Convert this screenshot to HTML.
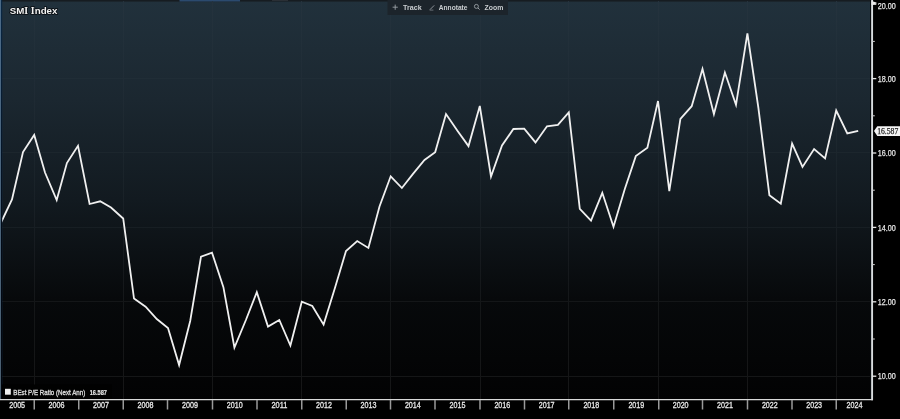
<!DOCTYPE html>
<html><head><meta charset="utf-8"><style>
html,body{margin:0;padding:0;background:#000;}
body{width:900px;height:419px;overflow:hidden;position:relative;font-family:"Liberation Sans",sans-serif;}
svg{position:absolute;left:0;top:0;will-change:transform;}
.g{stroke:#14191d;stroke-width:1;}
.tk{stroke:#e6e6e6;stroke-width:1.3;}
.tk2{stroke:#d0d0d0;stroke-width:1;}
.sep{stroke:#9a9a9a;stroke-width:1.5;}
.yl{font-family:"Liberation Sans",sans-serif;font-size:8.3px;fill:#e4e4e4;stroke:#e4e4e4;stroke-width:0.25px;}
.xl{font-family:"Liberation Sans",sans-serif;font-size:8.6px;fill:#e8e8e8;stroke:#e8e8e8;stroke-width:0.3px;}
.t{font-family:"Liberation Sans",sans-serif;}
</style></head><body>
<svg width="900" height="419" viewBox="0 0 900 419">
<defs>
<linearGradient id="bg" gradientUnits="userSpaceOnUse" x1="0" y1="0" x2="0" y2="399">
<stop offset="0" stop-color="#21313c"/>
<stop offset="0.25" stop-color="#1b2730"/>
<stop offset="0.5" stop-color="#121a20"/>
<stop offset="0.75" stop-color="#07090b"/>
<stop offset="0.9" stop-color="#040506"/>
<stop offset="1" stop-color="#020203"/>
</linearGradient>
<linearGradient id="lb1" gradientUnits="userSpaceOnUse" x1="0" y1="0" x2="0" y2="400"><stop offset="0" stop-color="#4a6a88"/><stop offset="1" stop-color="#4a5e6e"/></linearGradient>
<linearGradient id="lb2" gradientUnits="userSpaceOnUse" x1="0" y1="0" x2="0" y2="400"><stop offset="0" stop-color="#0a2845"/><stop offset="0.6" stop-color="#020a16"/><stop offset="1" stop-color="#00040c"/></linearGradient>
</defs>
<rect x="0" y="0" width="900" height="419" fill="#000"/>
<rect x="0" y="0" width="871.5" height="399.5" fill="url(#bg)"/>
<rect x="0" y="0" width="871.5" height="1" fill="#161c21"/><rect x="0" y="1" width="871.5" height="1" fill="#1b252c"/>
<rect x="179.5" y="0" width="60.5" height="1.5" fill="#2b4a6e"/>
<rect x="272" y="0" width="16" height="1" fill="#2a2f35"/>
<defs><linearGradient id="gg" gradientUnits="userSpaceOnUse" x1="0" y1="0" x2="0" y2="399"><stop offset="0.00" stop-color="#25333e"/><stop offset="0.10" stop-color="#22303a"/><stop offset="0.20" stop-color="#202c36"/><stop offset="0.30" stop-color="#1e2931"/><stop offset="0.40" stop-color="#1b252c"/><stop offset="0.50" stop-color="#192127"/><stop offset="0.60" stop-color="#171c21"/><stop offset="0.70" stop-color="#15181b"/><stop offset="0.80" stop-color="#141617"/><stop offset="0.90" stop-color="#151617"/><stop offset="1.00" stop-color="#161617"/></linearGradient></defs><line x1="34.5" y1="1" x2="34.5" y2="399" stroke="url(#gg)" stroke-width="1"/><line x1="123.5" y1="1" x2="123.5" y2="399" stroke="url(#gg)" stroke-width="1"/><line x1="212.5" y1="1" x2="212.5" y2="399" stroke="url(#gg)" stroke-width="1"/><line x1="301.5" y1="1" x2="301.5" y2="399" stroke="url(#gg)" stroke-width="1"/><line x1="390.5" y1="1" x2="390.5" y2="399" stroke="url(#gg)" stroke-width="1"/><line x1="480.5" y1="1" x2="480.5" y2="399" stroke="url(#gg)" stroke-width="1"/><line x1="568.5" y1="1" x2="568.5" y2="399" stroke="url(#gg)" stroke-width="1"/><line x1="658.5" y1="1" x2="658.5" y2="399" stroke="url(#gg)" stroke-width="1"/><line x1="747.5" y1="1" x2="747.5" y2="399" stroke="url(#gg)" stroke-width="1"/><line x1="836.5" y1="1" x2="836.5" y2="399" stroke="url(#gg)" stroke-width="1"/><line x1="1.5" y1="376.5" x2="871" y2="376.5" stroke="#151617" stroke-width="1"/><line x1="1.5" y1="301.5" x2="871" y2="301.5" stroke="#141618" stroke-width="1"/><line x1="1.5" y1="227.5" x2="871" y2="227.5" stroke="#171e23" stroke-width="1"/><line x1="1.5" y1="152.5" x2="871" y2="152.5" stroke="#1c262d" stroke-width="1"/><line x1="1.5" y1="78.5" x2="871" y2="78.5" stroke="#202d36" stroke-width="1"/>
<path d="M0.8,223.0 L12.0,199.5 L23.0,152.0 L34.2,135.0 L45.0,172.5 L56.7,200.0 L66.9,163.0 L78.0,145.8 L89.6,204.0 L100.2,201.3 L111.0,207.5 L123.2,218.5 L134.0,298.5 L145.6,306.7 L156.8,319.0 L168.0,328.0 L179.1,365.0 L190.2,321.0 L201.0,256.7 L212.0,252.7 L223.4,287.2 L234.4,347.5 L245.9,320.0 L256.8,292.2 L268.0,326.6 L279.3,320.0 L290.4,345.6 L301.8,301.7 L312.3,306.0 L323.6,324.6 L335.0,287.7 L346.0,251.0 L357.2,241.1 L368.4,247.9 L379.5,206.5 L390.7,176.3 L401.9,188.0 L413.0,173.9 L424.5,160.0 L435.2,152.1 L446.0,114.1 L457.6,130.9 L468.5,146.1 L479.8,106.0 L491.0,176.5 L502.0,145.5 L513.4,129.0 L524.2,128.6 L535.5,142.4 L547.0,126.3 L557.9,124.8 L568.8,112.3 L579.8,208.9 L591.0,220.6 L602.3,192.8 L613.5,226.8 L624.8,189.0 L635.8,156.1 L647.4,147.8 L658.0,101.0 L669.3,191.2 L680.4,118.9 L691.7,106.2 L702.5,69.0 L713.9,114.1 L724.9,72.5 L736.0,104.9 L747.4,33.3 L758.4,108.0 L769.4,195.2 L780.8,203.6 L792.1,143.6 L802.5,166.9 L814.1,149.1 L825.1,158.4 L836.2,110.5 L847.3,133.4 L858.2,130.8" fill="none" stroke="#f0f0f0" stroke-width="1.8" stroke-linejoin="miter" stroke-miterlimit="4.3"/>
<rect x="870" y="0" width="1.2" height="399.5" fill="#070a0d"/>
<rect x="0" y="0" width="1" height="400" fill="url(#lb1)"/><rect x="1" y="0" width="1" height="400" fill="url(#lb2)"/><rect x="2" y="0" width="1" height="400" fill="rgba(10,40,70,0.25)"/>
<line x1="872.1" y1="0" x2="872.1" y2="400.3" stroke="#d8dcdf" stroke-width="1.9"/>
<line x1="0" y1="399.7" x2="873" y2="399.7" stroke="#d8d8d8" stroke-width="1.2"/>
<line x1="872" y1="376.2" x2="876.3" y2="376.2" class="tk"/><line x1="872" y1="339.0" x2="874.8" y2="339.0" class="tk2"/><line x1="872" y1="301.8" x2="876.3" y2="301.8" class="tk"/><line x1="872" y1="264.6" x2="874.8" y2="264.6" class="tk2"/><line x1="872" y1="227.4" x2="876.3" y2="227.4" class="tk"/><line x1="872" y1="190.2" x2="874.8" y2="190.2" class="tk2"/><line x1="872" y1="153.0" x2="876.3" y2="153.0" class="tk"/><line x1="872" y1="115.8" x2="874.8" y2="115.8" class="tk2"/><line x1="872" y1="78.6" x2="876.3" y2="78.6" class="tk"/><line x1="872" y1="41.4" x2="874.8" y2="41.4" class="tk2"/><line x1="872" y1="4.2" x2="876.3" y2="4.2" class="tk"/><line x1="34.25" y1="400" x2="34.25" y2="409.5" class="sep"/><line x1="78.75" y1="400" x2="78.75" y2="409.5" class="sep"/><line x1="123.25" y1="400" x2="123.25" y2="409.5" class="sep"/><line x1="167.5" y1="400" x2="167.5" y2="409.5" class="sep"/><line x1="212.5" y1="400" x2="212.5" y2="409.5" class="sep"/><line x1="257" y1="400" x2="257" y2="409.5" class="sep"/><line x1="301.75" y1="400" x2="301.75" y2="409.5" class="sep"/><line x1="346.25" y1="400" x2="346.25" y2="409.5" class="sep"/><line x1="390.5" y1="400" x2="390.5" y2="409.5" class="sep"/><line x1="435" y1="400" x2="435" y2="409.5" class="sep"/><line x1="480" y1="400" x2="480" y2="409.5" class="sep"/><line x1="524.5" y1="400" x2="524.5" y2="409.5" class="sep"/><line x1="568.75" y1="400" x2="568.75" y2="409.5" class="sep"/><line x1="613.75" y1="400" x2="613.75" y2="409.5" class="sep"/><line x1="658.75" y1="400" x2="658.75" y2="409.5" class="sep"/><line x1="702.5" y1="400" x2="702.5" y2="409.5" class="sep"/><line x1="747.5" y1="400" x2="747.5" y2="409.5" class="sep"/><line x1="792" y1="400" x2="792" y2="409.5" class="sep"/><line x1="836.25" y1="400" x2="836.25" y2="409.5" class="sep"/>
<path d="M871.5,1 L876.5,2.6 L876.5,3.6 L871.5,5 Z" fill="#e8e8e8"/>
<text x="877.8" y="379.3" class="yl" textLength="17.9" lengthAdjust="spacingAndGlyphs">10.00</text><text x="877.8" y="304.9" class="yl" textLength="17.9" lengthAdjust="spacingAndGlyphs">12.00</text><text x="877.8" y="230.5" class="yl" textLength="17.9" lengthAdjust="spacingAndGlyphs">14.00</text><text x="877.8" y="156.1" class="yl" textLength="17.9" lengthAdjust="spacingAndGlyphs">16.00</text><text x="877.8" y="81.7" class="yl" textLength="17.9" lengthAdjust="spacingAndGlyphs">18.00</text><text x="877.8" y="9.2" class="yl" textLength="17.9" lengthAdjust="spacingAndGlyphs">20.00</text><text x="9.2" y="408.1" class="xl" textLength="15.9" lengthAdjust="spacingAndGlyphs">2005</text><text x="48.6" y="408.1" class="xl" textLength="15.9" lengthAdjust="spacingAndGlyphs">2006</text><text x="93.1" y="408.1" class="xl" textLength="15.9" lengthAdjust="spacingAndGlyphs">2007</text><text x="137.5" y="408.1" class="xl" textLength="15.9" lengthAdjust="spacingAndGlyphs">2008</text><text x="182.1" y="408.1" class="xl" textLength="15.9" lengthAdjust="spacingAndGlyphs">2009</text><text x="226.8" y="408.1" class="xl" textLength="15.9" lengthAdjust="spacingAndGlyphs">2010</text><text x="271.5" y="408.1" class="xl" textLength="15.9" lengthAdjust="spacingAndGlyphs">2011</text><text x="316.1" y="408.1" class="xl" textLength="15.9" lengthAdjust="spacingAndGlyphs">2012</text><text x="360.5" y="408.1" class="xl" textLength="15.9" lengthAdjust="spacingAndGlyphs">2013</text><text x="404.9" y="408.1" class="xl" textLength="15.9" lengthAdjust="spacingAndGlyphs">2014</text><text x="449.6" y="408.1" class="xl" textLength="15.9" lengthAdjust="spacingAndGlyphs">2015</text><text x="494.4" y="408.1" class="xl" textLength="15.9" lengthAdjust="spacingAndGlyphs">2016</text><text x="538.7" y="408.1" class="xl" textLength="15.9" lengthAdjust="spacingAndGlyphs">2017</text><text x="583.4" y="408.1" class="xl" textLength="15.9" lengthAdjust="spacingAndGlyphs">2018</text><text x="628.4" y="408.1" class="xl" textLength="15.9" lengthAdjust="spacingAndGlyphs">2019</text><text x="672.7" y="408.1" class="xl" textLength="15.9" lengthAdjust="spacingAndGlyphs">2020</text><text x="717.1" y="408.1" class="xl" textLength="15.9" lengthAdjust="spacingAndGlyphs">2021</text><text x="761.9" y="408.1" class="xl" textLength="15.9" lengthAdjust="spacingAndGlyphs">2022</text><text x="806.2" y="408.1" class="xl" textLength="15.9" lengthAdjust="spacingAndGlyphs">2023</text><text x="846.5" y="408.1" class="xl" textLength="15.9" lengthAdjust="spacingAndGlyphs">2024</text>
<text x="9.7" y="13.7" class="t" font-size="9.6px" font-weight="bold" fill="#f4f4f4" stroke="#080c10" stroke-width="1.6" paint-order="stroke" stroke-linejoin="round" textLength="47.8" lengthAdjust="spacingAndGlyphs">SM<tspan font-family="Liberation Serif">I</tspan> <tspan font-family="Liberation Serif">I</tspan>ndex</text>
<rect x="387.5" y="0" width="120.5" height="15" fill="#1c242b"/>
<g fill="none" stroke="#9aa0a6">
<line x1="392.6" y1="7.2" x2="397.8" y2="7.2" stroke-width="0.9"/><line x1="395.2" y1="4.6" x2="395.2" y2="9.8" stroke-width="0.9"/>
<line x1="430" y1="9.6" x2="434.2" y2="5.4" stroke-width="0.9"/><line x1="429.6" y1="10.1" x2="433.4" y2="10.1" stroke-width="0.6"/>
<circle cx="476.4" cy="6.4" r="2" stroke-width="0.9"/><line x1="477.9" y1="7.9" x2="479.6" y2="9.6" stroke-width="1"/>
</g>
<text x="403" y="9.8" class="t" font-size="7.8px" font-weight="bold" fill="#c9cdd0" textLength="18.7" lengthAdjust="spacingAndGlyphs">Track</text>
<text x="438.8" y="9.8" class="t" font-size="7.8px" font-weight="bold" fill="#c9cdd0" textLength="28.7" lengthAdjust="spacingAndGlyphs">Annotate</text>
<text x="484.6" y="9.8" class="t" font-size="7.8px" font-weight="bold" fill="#c9cdd0" textLength="18.7" lengthAdjust="spacingAndGlyphs">Zoom</text>
<rect x="2" y="384.5" width="110" height="14.5" fill="#010101"/>
<rect x="5" y="388.8" width="5.8" height="5.9" fill="#f0f0f0"/>
<text x="13.3" y="394.7" class="t" font-size="7.3px" fill="#d8d8d8" stroke="#d8d8d8" stroke-width="0.35" textLength="72" lengthAdjust="spacingAndGlyphs">BEst P/E Ratio (Next Ann)</text>
<text x="89.7" y="394.7" class="t" font-size="7.2px" font-weight="bold" fill="#e4e4e4" stroke="#e4e4e4" stroke-width="0.2" textLength="17.3" lengthAdjust="spacingAndGlyphs">16.587</text>
<path d="M874,131 L877.3,126.2 L900,126.2 L900,135.9 L877.3,135.9 Z" fill="#f4f4f4"/>
<text x="877.2" y="133.7" font-family="Liberation Serif, serif" font-size="8.3px" fill="#262626" stroke="#262626" stroke-width="0.25" textLength="21.1" lengthAdjust="spacingAndGlyphs">16.587</text>
</svg>
</body></html>
